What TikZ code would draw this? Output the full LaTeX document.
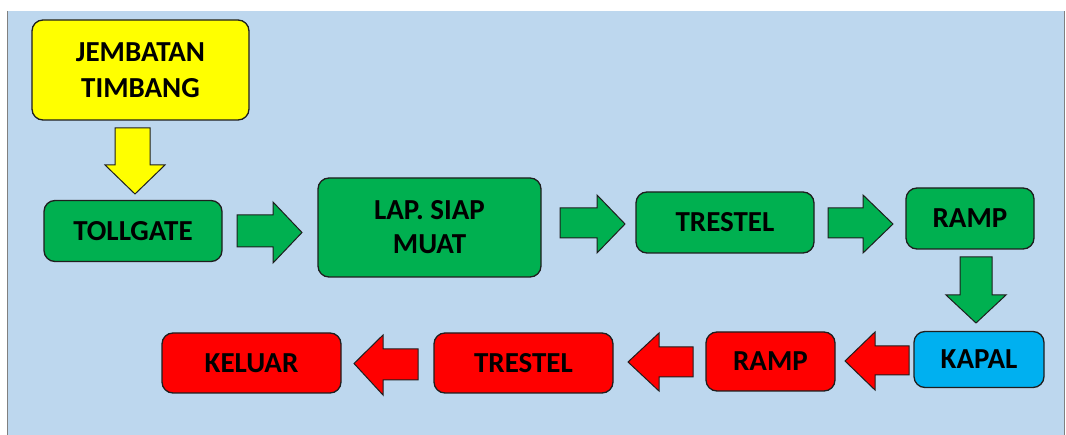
\documentclass[tikz,border=0pt]{standalone}
\usepackage{fontspec}
\setmainfont{Carlito}
\definecolor{bgblue}{RGB}{189,215,238}
\definecolor{mygreen}{RGB}{0,176,80}
\definecolor{myred}{RGB}{255,0,0}
\definecolor{myyellow}{RGB}{255,255,0}
\definecolor{myblue}{RGB}{0,176,240}
\definecolor{edge}{RGB}{30,30,30}
\tikzset{
  box/.style={draw=edge,line width=1.3pt,rounded corners=11pt,align=center,
    font=\fontsize{29}{34}\selectfont\bfseries,inner sep=0pt},
  gbox/.style={box,fill=mygreen},
  rbox/.style={box,fill=myred},
  blockarrow/.style={draw=edge,line width=1pt,line join=miter},
  garrow/.style={blockarrow,fill=mygreen},
  rarrow/.style={blockarrow,fill=myred},
  yarrow/.style={blockarrow,fill=myyellow},
}
\begin{document}
\begin{tikzpicture}[x=1pt,y=-1pt]
\useasboundingbox (0,0) rectangle (1066,435);
\fill[white] (0,0) rectangle (1066,435);
\fill[bgblue] (7,11) rectangle (1064,435);
\draw[gray,line width=1pt] (7,11) -- (7,435);
\draw[gray,line width=1pt] (1064,11) -- (1064,435);
% boxes
\node[box,fill=myyellow,minimum width=217pt,minimum height=100pt] (jt) at (140.5,70) {JEMBATAN\\[2pt]TIMBANG};
\node[gbox,minimum width=178pt,minimum height=61pt] (toll) at (133,231) {TOLLGATE};
\node[gbox,minimum width=223pt,minimum height=99pt] (lap) at (429.5,227.5) {LAP. SIAP\\MUAT};
\node[gbox,minimum width=178pt,minimum height=61pt] (tres) at (725,222.5) {TRESTEL};
\node[gbox,minimum width=128pt,minimum height=61pt] (ramp) at (970,218.5) {RAMP};
\node[box,fill=myblue,minimum width=130pt,minimum height=56pt] (kapal) at (979,359.5) {KAPAL};
\node[rbox,minimum width=129pt,minimum height=59pt] (ramp2) at (770.5,361.5) {RAMP};
\node[rbox,minimum width=179pt,minimum height=60pt] (tres2) at (523.5,363) {TRESTEL};
\node[rbox,minimum width=179pt,minimum height=60pt] (kel) at (251.5,363) {KELUAR};
% block arrows
\draw[yarrow] (115,128) -- (150,128) -- (150,165) -- (165,165) -- (135,194) -- (105,165) -- (115,165) -- cycle;
\draw[garrow] (237,215) -- (273,215) -- (273,202) -- (302,232.5) -- (273,263) -- (273,247) -- (237,247) -- cycle;
\draw[garrow] (560,208) -- (597,208) -- (597,195) -- (625,224) -- (597,253) -- (597,238) -- (560,238) -- cycle;
\draw[garrow] (828,208) -- (863,208) -- (863,195) -- (893,224) -- (863,253) -- (863,238) -- (828,238) -- cycle;
\draw[garrow] (960,257) -- (992,257) -- (992,295) -- (1006,295) -- (976,323) -- (946,295) -- (960,295) -- cycle;
\draw[rarrow] (909,346) -- (875,346) -- (875,332) -- (845,361) -- (875,390) -- (875,375) -- (909,375) -- cycle;
\draw[rarrow] (693,347) -- (659,347) -- (659,333) -- (628,362) -- (659,391) -- (659,377) -- (693,377) -- cycle;
\draw[rarrow] (418,349) -- (383,349) -- (383,335) -- (354,363.5) -- (383,395) -- (383,380) -- (418,380) -- cycle;
\end{tikzpicture}
\end{document}
